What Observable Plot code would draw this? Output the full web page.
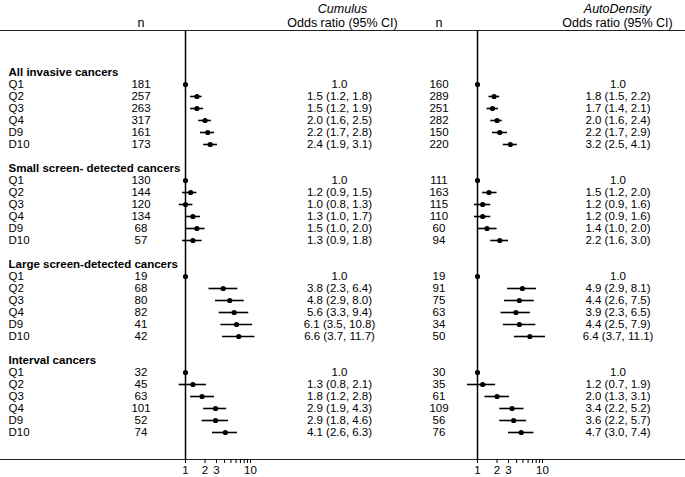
<!DOCTYPE html>
<html>
<head>
<meta charset="utf-8">
<script src="https://cdn.jsdelivr.net/npm/d3@7"></script>
<script src="https://cdn.jsdelivr.net/npm/@observablehq/plot@0.6"></script>
<style>
  html, body { margin: 0; padding: 0; background: white; }
  #chart { display: flex; flex-direction: row; width: 685px; height: 477px; }
  #chart svg { display: block; overflow: visible; }
</style>
</head>
<body>
<div id="chart"></div>
<script>
// ---- data ----
const sections = ["All invasive cancers", "Small screen- detected cancers", "Large screen-detected cancers", "Interval cancers"];
const groups = ["Q1", "Q2", "Q3", "Q4", "D9", "D10"];

const cumulusN  = [181, 257, 263, 317, 161, 173,  130, 144, 120, 134, 68, 57,  19, 68, 80, 82, 41, 42,  32, 45, 63, 101, 52, 74];
const cumulusOR = [1.0, 1.5, 1.5, 2.0, 2.2, 2.4,  1.0, 1.2, 1.0, 1.3, 1.5, 1.3,  1.0, 3.8, 4.8, 5.6, 6.1, 6.6,  1.0, 1.3, 1.8, 2.9, 2.9, 4.1];
const cumulusLo = [null, 1.2, 1.2, 1.6, 1.7, 1.9,  null, 0.9, 0.8, 1.0, 1.0, 0.9,  null, 2.3, 2.9, 3.3, 3.5, 3.7,  null, 0.8, 1.2, 1.9, 1.8, 2.6];
const cumulusHi = [null, 1.8, 1.9, 2.5, 2.8, 3.1,  null, 1.5, 1.3, 1.7, 2.0, 1.8,  null, 6.4, 8.0, 9.4, 10.8, 11.7,  null, 2.1, 2.8, 4.3, 4.6, 6.3];

const autoN  = [160, 289, 251, 282, 150, 220,  111, 163, 115, 110, 60, 94,  19, 91, 75, 63, 34, 50,  30, 35, 61, 109, 56, 76];
const autoOR = [1.0, 1.8, 1.7, 2.0, 2.2, 3.2,  1.0, 1.5, 1.2, 1.2, 1.4, 2.2,  1.0, 4.9, 4.4, 3.9, 4.4, 6.4,  1.0, 1.2, 2.0, 3.4, 3.6, 4.7];
const autoLo = [null, 1.5, 1.4, 1.6, 1.7, 2.5,  null, 1.2, 0.9, 0.9, 1.0, 1.6,  null, 2.9, 2.6, 2.3, 2.5, 3.7,  null, 0.7, 1.3, 2.2, 2.2, 3.0];
const autoHi = [null, 2.2, 2.1, 2.4, 2.9, 4.1,  null, 2.0, 1.6, 1.6, 2.0, 3.0,  null, 8.1, 7.5, 6.5, 7.9, 11.1,  null, 1.9, 3.1, 5.2, 5.7, 7.4];

const xTicks = [1, 2, 3, 4, 5, 6, 7, 8, 9, 10];
const xTickLabels = [1, 2, 3, 10];
const colHeaderOR = "Odds ratio (95% CI)";
const colHeaderN = "n";

// ---- layout helpers ----
const yDomain = sections.flatMap((s, si) => {
  const keys = [s, ...groups.map(g => s + "|" + g)];
  if (si < sections.length - 1) keys.push(s + "|blank");
  return keys;
});

const fmt = v => v.toFixed(1);

function makeRows(n, or, lo, hi) {
  return sections.flatMap((s, si) => groups.map((g, gi) => {
    const i = si * groups.length + gi;
    return {
      key: s + "|" + g, label: g, n: n[i], or: or[i], lo: lo[i], hi: hi[i],
      text: lo[i] == null ? fmt(or[i]) : `${fmt(or[i])} (${fmt(lo[i])}, ${fmt(hi[i])})`
    };
  }));
}

const FONT = "'Liberation Sans', Arial, Helvetica, sans-serif";
const BODY = 11.5;
const HEAD = 12.5;

function panel({method, rows, width, origin, nX, orX, titleX, showLabels}) {
  const marks = [
    Plot.frame({anchor: "top", stroke: "#222", strokeWidth: 1.2}),
    Plot.frame({anchor: "bottom", stroke: "#222", strokeWidth: 1.2}),
    Plot.ruleX([1], {stroke: "black", strokeWidth: 1.5}),
    Plot.ruleY(rows.filter(d => d.lo != null), {y: "key", x1: "lo", x2: "hi", stroke: "black", strokeWidth: 1.6}),
    Plot.dot(rows, {x: "or", y: "key", r: 2.6, fill: "black", stroke: null}),
    Plot.axisX({
      anchor: "bottom", ticks: xTicks, tickSize: 4, tickPadding: 2, label: null,
      tickFormat: d => xTickLabels.includes(d) ? String(d) : "",
      fontSize: BODY, stroke: "black"
    }),
    Plot.text(rows, {y: "key", text: d => String(d.n), frameAnchor: "left", dx: nX, textAnchor: "middle", fontSize: BODY}),
    Plot.text(rows, {y: "key", text: "text", frameAnchor: "left", dx: orX, textAnchor: "middle", fontSize: BODY}),
    Plot.text([method], {frameAnchor: "top-left", dx: titleX, dy: -22, textAnchor: "middle", lineAnchor: "middle", fontStyle: "italic", fontSize: HEAD}),
    Plot.text([colHeaderOR], {frameAnchor: "top-left", dx: titleX, dy: -8, textAnchor: "middle", lineAnchor: "middle", fontSize: HEAD}),
    Plot.text([colHeaderN], {frameAnchor: "top-left", dx: nX, dy: -8, textAnchor: "middle", lineAnchor: "middle", fontSize: HEAD})
  ];
  if (showLabels) {
    marks.push(
      Plot.text(sections, {y: d => d, text: d => d, frameAnchor: "left", dx: 8, textAnchor: "start", fontWeight: "bold", fontSize: BODY}),
      Plot.text(rows, {y: "key", text: "label", frameAnchor: "left", dx: 8, textAnchor: "start", fontSize: BODY})
    );
  }
  return Plot.plot({
    width, height: 477,
    marginTop: 30, marginBottom: 18, marginLeft: 0, marginRight: 0,
    style: {fontFamily: FONT, fontSize: BODY + "px", color: "black", background: "white", overflow: "visible"},
    x: {type: "log", domain: [1, 10], range: [origin, origin + 65]},
    y: {type: "point", domain: yDomain, range: [61, 443], padding: 0, axis: null},
    marks
  });
}

const split = 405;
const chart = document.getElementById("chart");
chart.append(
  panel({method: "Cumulus", rows: makeRows(cumulusN, cumulusOR, cumulusLo, cumulusHi),
         width: split, origin: 185, nX: 140.5, orX: 339, titleX: 342, showLabels: true}),
  panel({method: "AutoDensity", rows: makeRows(autoN, autoOR, autoLo, autoHi),
         width: 685 - split, origin: 477 - split, nX: 438.5 - split, orX: 617.5 - split, titleX: 617 - split, showLabels: false})
);
</script>
</body>
</html>
